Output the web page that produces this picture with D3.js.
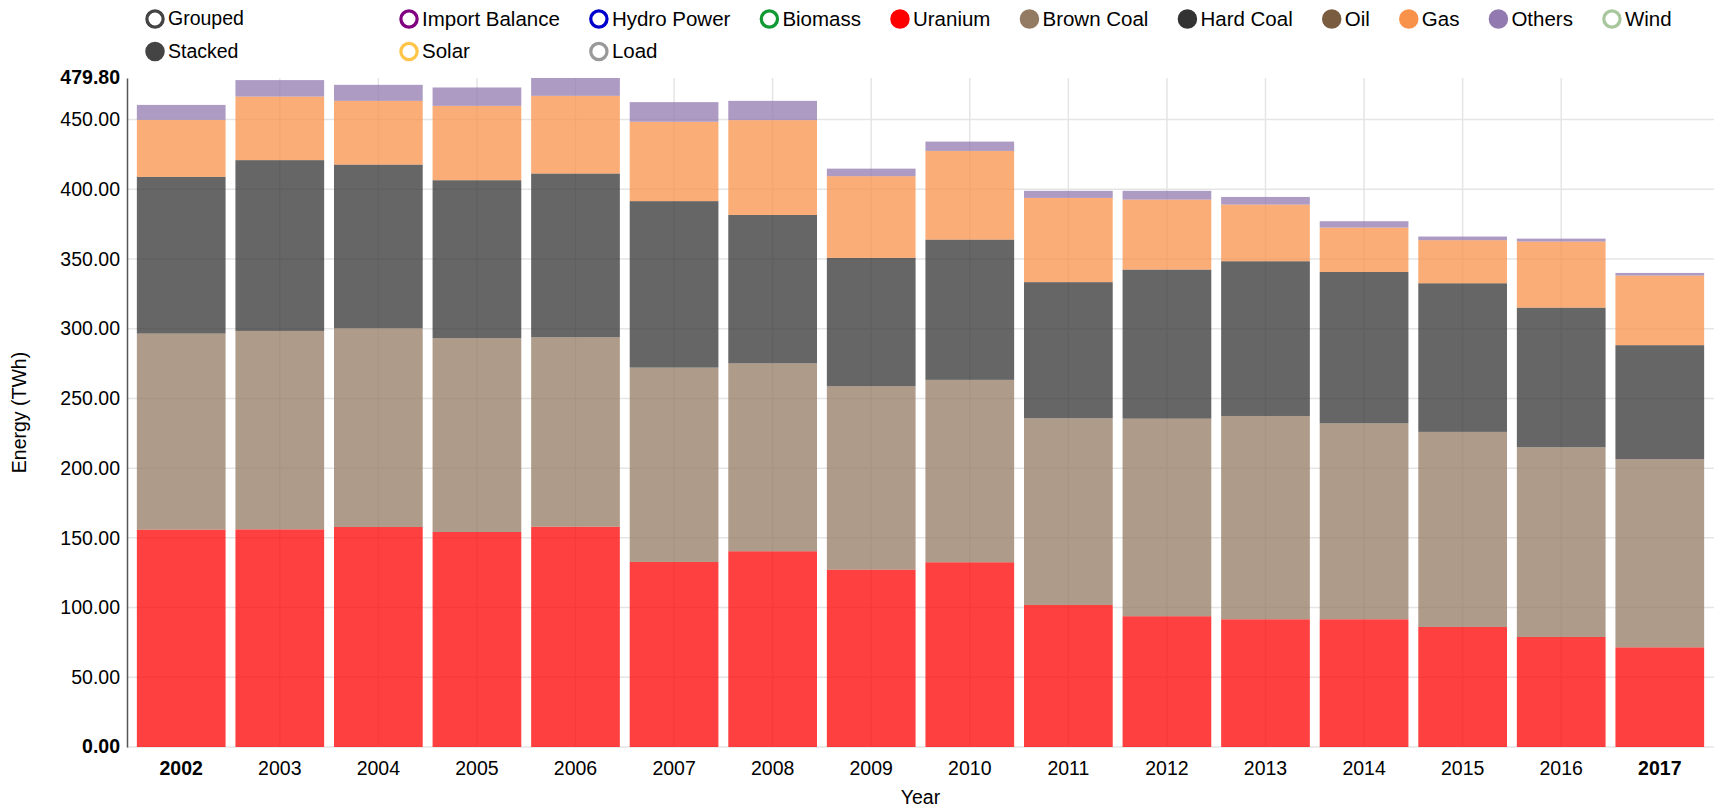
<!DOCTYPE html>
<html>
<head>
<meta charset="utf-8">
<script src="https://cdn.jsdelivr.net/npm/d3@7"></script>
<style>
  body { margin: 0; background: #fff; }
  svg text { font-family: Arial, "Liberation Sans", sans-serif; font-size: 19.5px; fill: #000; }
  .legend text { font-size: 20.5px; }
</style>
</head>
<body>
<div id="chart"></div>
<script>
"use strict";

// --- data (TWh) ---
const years = ["2002", "2003", "2004", "2005", "2006", "2007", "2008", "2009",
               "2010", "2011", "2012", "2013", "2014", "2015", "2016", "2017"];

const uranium   = [155.9, 156.1, 157.8, 154.2, 158.0, 132.7, 140.4, 127.2, 132.5, 101.9, 93.8, 91.6, 91.6, 86.1, 78.9, 71.5];
const brownCoal = [140.6, 142.3, 142.5, 139.0, 135.9, 139.4, 134.8, 131.6, 130.8, 133.9, 141.7, 145.8, 140.6, 139.9, 136.1, 134.9];
const hardCoal  = [112.4, 122.5, 117.4, 113.3, 117.4, 119.4, 106.4, 92.0, 100.6, 97.6, 106.9, 111.0, 108.5, 106.6, 100.1, 81.8];
const gas       = [40.9, 45.6, 45.7, 53.3, 55.7, 56.9, 68.0, 58.6, 63.6, 60.4, 50.2, 40.6, 31.8, 30.9, 47.4, 49.9];
const others    = [10.7, 11.8, 11.5, 13.2, 12.8, 14.1, 13.8, 5.4, 6.7, 5.1, 6.3, 5.5, 4.6, 2.6, 2.1, 1.9];

const legendNames = ["Import Balance", "Hydro Power", "Biomass", "Uranium", "Brown Coal", "Hard Coal",
                     "Oil", "Gas", "Others", "Wind", "Solar", "Load"];
const legendColors = ["#800080", "#0000cc", "#119933", "#ff0000", "#937a62", "#333333",
                      "#7a5c40", "#f8924a", "#927ab0", "#a9c79c", "#ffc54a", "#999999"];
const legendOn = [false, false, false, true, true, true, true, true, true, false, false, false];
const controlNames = ["Grouped", "Stacked"];

// --- layout ---
const width = 1714, height = 810;
const k = 1.625;                       // nvd3-style sizes, scaled up
const margin = { top: 78, right: 0, bottom: 63, left: 127 };
const plotBottom = height - margin.bottom;

const svg = d3.select("#chart").append("svg")
    .attr("width", width)
    .attr("height", height);

const series = { "Uranium": uranium, "Brown Coal": brownCoal, "Hard Coal": hardCoal, "Gas": gas, "Others": others };
const keys = Object.keys(series);
const color = d3.scaleOrdinal().domain(legendNames).range(legendColors);

const rows = years.map((y, i) => {
    const r = { year: y };
    keys.forEach(key => { r[key] = series[key][i]; });
    return r;
});
const stacked = d3.stack().keys(keys)(rows);
const maxTotal = d3.max(rows, r => d3.sum(keys, key => r[key]));

const x = d3.scaleBand().domain(years).range([margin.left, width - margin.right]).padding(0.1);
const y = d3.scaleLinear().domain([0, maxTotal]).range([plotBottom, margin.top]);

// grid
const grid = svg.append("g").attr("class", "grid");
const yTicks = y.ticks(10).filter(t => y(t) - y(maxTotal) > 15);
grid.selectAll("line.h").data(yTicks).join("line")
    .attr("class", "h")
    .attr("x1", margin.left).attr("x2", width)
    .attr("y1", d => y(d)).attr("y2", d => y(d))
    .attr("stroke", "#e5e5e5").attr("stroke-width", 1.5);
grid.selectAll("line.v").data(years.slice(1, -1)).join("line")
    .attr("class", "v")
    .attr("x1", d => x(d) + x.bandwidth() / 2).attr("x2", d => x(d) + x.bandwidth() / 2)
    .attr("y1", margin.top).attr("y2", plotBottom)
    .attr("stroke", "#e5e5e5").attr("stroke-width", 1.5);

// bars
svg.append("g").selectAll("g").data(stacked).join("g")
    .attr("fill", d => color(d.key))
    .attr("fill-opacity", 0.75)
  .selectAll("rect").data(d => d).join("rect")
    .attr("x", d => x(d.data.year))
    .attr("width", x.bandwidth())
    .attr("y", d => y(d[1]))
    .attr("height", d => y(d[0]) - y(d[1]));

// y axis
const fmt = d3.format(".2f");
const yAxis = svg.append("g").attr("transform", `translate(${margin.left},0)`)
    .call(d3.axisLeft(y).tickValues(yTicks.filter(t => t > 0)).tickSize(0).tickPadding(7).tickFormat(fmt));
yAxis.select(".domain").attr("stroke", "#555").attr("stroke-width", 1.5);
yAxis.selectAll("text").attr("font-size", null).attr("font-family", null);
[0, maxTotal].forEach(v => {
    yAxis.append("text")
        .attr("x", -7).attr("y", y(v)).attr("dy", "0.32em")
        .attr("text-anchor", "end").attr("font-weight", "bold")
        .text(fmt(v));
});

// x axis
const xAxis = svg.append("g").attr("transform", `translate(0,${plotBottom})`)
    .call(d3.axisBottom(x).tickSize(0).tickPadding(14));
xAxis.select(".domain").remove();
xAxis.selectAll("text").attr("font-size", null).attr("font-family", null)
    .attr("font-weight", (d, i) => (i === 0 || i === years.length - 1) ? "bold" : null);

// axis titles
svg.append("text")
    .attr("x", (margin.left + width) / 2).attr("y", 804)
    .attr("text-anchor", "middle")
    .text("Year");
svg.append("text")
    .attr("transform", `translate(26,${(margin.top + plotBottom) / 2}) rotate(-90)`)
    .attr("text-anchor", "middle")
    .text("Energy (TWh)");

// legend (nvd3 style columns)
const legendCols = 10;
const legendLeft = 409;
const rowY = r => 19 + r * 20 * k;
const legend = svg.append("g").attr("class", "legend");
const items = legend.selectAll("g").data(legendNames).join("g");
items.append("circle")
    .attr("r", 5 * k)
    .attr("stroke-width", 2 * k)
    .attr("stroke", d => color(d))
    .attr("fill", (d, i) => legendOn[i] ? color(d) : "#fff");
items.append("text")
    .attr("x", 8 * k).attr("dy", "0.32em")
    .text(d => d);
const itemW = items.nodes().map(n => n.querySelector("text").getComputedTextLength() + 32 * k);
const colW = d3.range(legendCols).map(c => d3.max(itemW.filter((w, i) => i % legendCols === c)));
items.attr("transform", (d, i) => {
    const c = i % legendCols;
    return `translate(${legendLeft + d3.sum(colW.slice(0, c))},${rowY(Math.floor(i / legendCols))})`;
});

// grouped / stacked controls
const controls = svg.append("g").selectAll("g").data(controlNames).join("g")
    .attr("transform", (d, i) => `translate(155,${rowY(i)})`);
controls.append("circle")
    .attr("r", 5 * k)
    .attr("stroke-width", 2 * k)
    .attr("stroke", "#444")
    .attr("fill", (d, i) => i === 1 ? "#444" : "#fff");
controls.append("text")
    .attr("x", 8 * k).attr("dy", "0.32em")
    .text(d => d);
</script>
</body>
</html>
